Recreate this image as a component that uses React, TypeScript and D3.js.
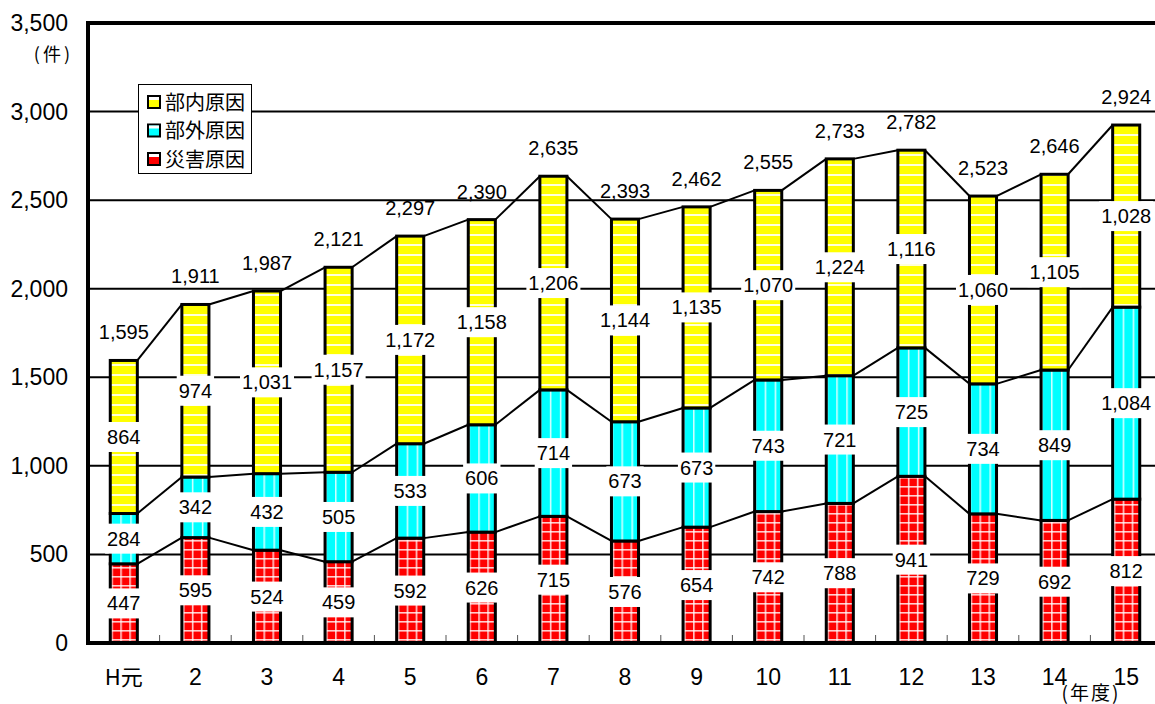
import React from 'react';
import * as d3 from 'd3';

const categories = ['H元', '2', '3', '4', '5', '6', '7', '8', '9', '10', '11', '12', '13', '14', '15'];
const disasterValues = [447, 595, 524, 459, 592, 626, 715, 576, 654, 742, 788, 941, 729, 692, 812];
const externalValues = [284, 342, 432, 505, 533, 606, 714, 673, 673, 743, 721, 725, 734, 849, 1084];
const internalValues = [864, 974, 1031, 1157, 1172, 1158, 1206, 1144, 1135, 1070, 1224, 1116, 1060, 1105, 1028];
const yTicks = [0, 500, 1000, 1500, 2000, 2500, 3000, 3500];
const legendNames = ['部内原因', '部外原因', '災害原因'];

const FONT = '"Liberation Sans", Arial, sans-serif';
const CJK = '"Noto Sans CJK JP", "Noto Sans", sans-serif';

const fmt = d3.format(',');

function textW(s: string, size: number) {
  let w = 0;
  for (const ch of s) w += ch === ',' ? 0.278 * size : 0.556 * size;
  return w;
}

export default function App() {
  const W = 1155;
  const H = 704;
  const x = d3.scaleBand<string>().domain(categories).range([88, 1162]).paddingInner(0.58).paddingOuter(0.29);
  const y = d3.scaleLinear().domain([0, 3500]).range([643, 23]);
  const bw = x.bandwidth();

  const rows = categories.map((c, i) => ({ cat: c, d: disasterValues[i], e: externalValues[i], n: internalValues[i] }));
  const stacked = d3.stack<any>().keys(['d', 'e', 'n'])(rows);
  const keys = ['d', 'e', 'n'];
  const colors: Record<string, string> = { d: '#ff0000', e: '#00ffff', n: '#ffff00' };

  const barX = (i: number) => (x(categories[i]) as number) + 1.5;
  const barW = bw - 3;

  const patterns: React.ReactNode[] = [];
  categories.forEach((c, i) => {
    const bx = barX(i);
    patterns.push(
      <pattern key={'n' + i} id={'pn' + i} patternUnits="userSpaceOnUse" x={bx} y={0} width={10} height={10}>
        <rect width={10} height={10} fill="#ffff00" />
        <rect x={0} y={4} width={10} height={2} fill="#ffffff" opacity={0.85} />
      </pattern>
    );
    patterns.push(
      <pattern key={'e' + i} id={'pe' + i} patternUnits="userSpaceOnUse" x={bx} y={0} width={10} height={10}>
        <rect width={10} height={10} fill="#00ffff" />
        <rect x={0} y={0} width={1.5} height={10} fill="#ffffff" opacity={0.85} />
      </pattern>
    );
    patterns.push(
      <pattern key={'d' + i} id={'pd' + i} patternUnits="userSpaceOnUse" x={bx + 1} y={0} width={9} height={9}>
        <rect width={9} height={9} fill="#ff0000" />
        <rect x={0} y={0} width={1.6} height={9} fill="#ffffff" opacity={0.8} />
        <rect x={0} y={0} width={9} height={1.6} fill="#ffffff" opacity={0.8} />
      </pattern>
    );
  });

  const totals = categories.map((_, i) => disasterValues[i] + externalValues[i] + internalValues[i]);

  return (
    <svg width={W} height={H} style={{ position: 'absolute', left: 0, top: 0, background: '#fff' }}>
      <defs>{patterns}</defs>
      <rect width={W} height={H} fill="#fff" />
      {/* gridlines */}
      {yTicks.filter(t => t > 0 && t < 3500).map(t => (
        <line key={t} x1={88} x2={W} y1={y(t)} y2={y(t)} stroke="#000" strokeWidth={2} />
      ))}
      {/* bars */}
      {stacked.map((s, si) =>
        s.map((d, i) => (
          <rect key={si + '-' + i} x={barX(i)} y={y(d[1])} width={barW} height={y(d[0]) - y(d[1])}
            fill={`url(#p${keys[si]}${i})`} stroke="#000" strokeWidth={3} />
        ))
      )}
      {/* connector lines */}
      {stacked.map((s, si) =>
        s.slice(0, -1).map((d, i) => (
          <line key={'c' + si + '-' + i} x1={barX(i) + barW} y1={y(d[1])} x2={barX(i + 1)} y2={y(s[i + 1][1])}
            stroke="#000" strokeWidth={2} />
        ))
      )}
      {/* segment labels */}
      {stacked.map((s, si) =>
        s.map((d, i) => {
          const v = d[1] - d[0];
          const str = fmt(v);
          const cx = (x(categories[i]) as number) + bw / 2;
          const cy = (y(d[0]) + y(d[1])) / 2;
          const tw = textW(str, 20) + 4;
          return (
            <g key={'l' + si + '-' + i}>
              <rect x={cx - tw / 2} y={cy - 15} width={tw} height={30} fill="#fff" />
              <text x={cx} y={cy + 7} textAnchor="middle" fontFamily={FONT} fontSize={20} fill="#000">{str}</text>
            </g>
          );
        })
      )}
      {/* totals */}
      {totals.map((t, i) => (
        <text key={'t' + i} x={(x(categories[i]) as number) + bw / 2} y={y(t) - 21} textAnchor="middle"
          fontFamily={FONT} fontSize={20} fill="#000">{fmt(t)}</text>
      ))}
      {/* axes */}
      <line x1={88} x2={W} y1={y(3500)} y2={y(3500)} stroke="#000" strokeWidth={4} />
      <line x1={88} x2={88} y1={y(3500) - 2} y2={y(0) + 2} stroke="#000" strokeWidth={4} />
      <line x1={86} x2={W} y1={y(0)} y2={y(0)} stroke="#000" strokeWidth={4} />
      {categories.slice(0, -1).map((c, i) => {
        const tx = (x(c) as number) + bw + (x.step() - bw) / 2;
        return <line key={'tk' + i} x1={tx} x2={tx} y1={y(0) - 2} y2={y(0) - 8} stroke="#555" strokeWidth={1} />;
      })}
      {yTicks.map(t => (
        <text key={'y' + t} x={68} y={y(t) + 8} textAnchor="end" fontFamily={FONT} fontSize={23} fill="#000">{fmt(t)}</text>
      ))}
      <text x={73} y={61} textAnchor="end" fontFamily={CJK} fontSize={18} letterSpacing={3} fill="#000">(件)</text>
      {categories.map((c, i) => (
        <text key={'x' + i} x={(x(c) as number) + bw / 2} y={685} textAnchor="middle"
          fontFamily={c === 'H元' ? CJK : FONT} fontSize={c === 'H元' ? 22 : 23} fill="#000">{c}</text>
      ))}
      <text x={1091} y={700} textAnchor="middle" fontFamily={CJK} fontSize={19} letterSpacing={2} fill="#000">(年度)</text>
      {/* legend */}
      <rect x={138.5} y={84.5} width={113} height={89} fill="#fff" stroke="#000" strokeWidth={1} />
      {legendNames.map((n, i) => {
        const cy = 102 + i * 28.5;
        const col = [colors.n, colors.e, colors.d][i];
        return (
          <g key={'lg' + i}>
            <rect x={148} y={cy - 6} width={12} height={12} fill={col} stroke="#000" strokeWidth={2} />
            <rect x={149} y={cy - 5} width={10} height={3} fill="#fff" />
            <text x={165} y={cy + 7.5} fontFamily={CJK} fontSize={20} fill="#000">{n}</text>
          </g>
        );
      })}
    </svg>
  );
}
